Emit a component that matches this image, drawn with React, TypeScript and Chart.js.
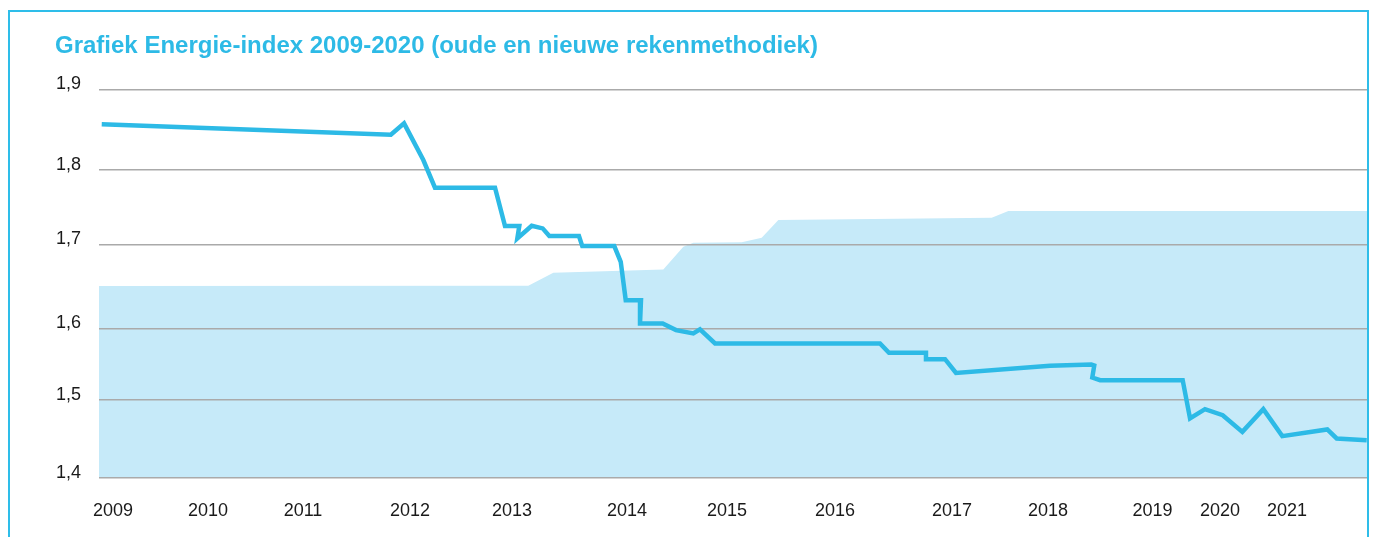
import React, { useEffect, useRef } from 'react';
import { Chart, registerables } from 'chart.js';

Chart.register(...registerables);

const chartTitle = 'Grafiek Energie-index 2009-2020 (oude en nieuwe rekenmethodiek)';

// Energie-index (line)
const lineX = [
  2008.885, 2011.84, 2011.975, 2012.172, 2012.291, 2012.905, 2013.007, 2013.153, 2013.133,
  2013.28, 2013.392, 2013.46, 2013.763, 2013.797, 2014.124, 2014.19, 2014.241, 2014.397,
  2014.387, 2014.619, 2014.755, 2014.932, 2015.0, 2015.154, 2016.84, 2016.932, 2017.31,
  2017.31, 2017.505, 2017.617, 2018.578, 2019.0, 2019.03, 2019.01, 2019.09, 2019.934,
  2020.009, 2020.162, 2020.343, 2020.544, 2020.758, 2020.952, 2021.412, 2021.508, 2021.815,
];
const lineY = [
  1.8552, 1.8418, 1.8564, 1.8091, 1.7735, 1.7735, 1.7241, 1.7241, 1.7082,
  1.7245, 1.7211, 1.7112, 1.7112, 1.6983, 1.6983, 1.6781, 1.6287, 1.6287,
  1.5987, 1.5987, 1.5901, 1.5858, 1.591, 1.5729, 1.5729, 1.5608, 1.5608,
  1.5527, 1.5527, 1.535, 1.5441, 1.5459, 1.5445, 1.529, 1.5256, 1.5256,
  1.4763, 1.4883, 1.4805, 1.459, 1.4883, 1.4535, 1.4621, 1.4505, 1.4483,
];

// Shaded band (area)
const areaX = [
  2008.857, 2013.245, 2013.501, 2014.625, 2014.83, 2014.932, 2015.427, 2015.631, 2015.801,
  2017.982, 2018.152, 2021.818,
];
const areaY = [
  1.647, 1.6472, 1.6639, 1.6683, 1.6974, 1.7026, 1.7031, 1.709, 1.7318,
  1.7348, 1.7434, 1.7434,
];

const xTickValues = [
  2009.0, 2009.971, 2010.942, 2012.036, 2013.079, 2014.254, 2015.276, 2016.38, 2017.576,
  2018.557, 2019.626, 2020.316, 2021.0,
];
const xTickLabels = [
  '2009', '2010', '2011', '2012', '2013', '2014', '2015', '2016', '2017', '2018', '2019', '2020', '2021',
];
const yTickValues = [1.4, 1.5003, 1.5923, 1.7005, 1.7963, 1.9];
const yTickLabels = ['1,4', '1,5', '1,6', '1,7', '1,8', '1,9'];

const CYAN = '#2dbae6';
const FRAME = '#2ebde9';
const FILL = '#c6eaf9';
const FONT = "'Liberation Sans', Arial, Helvetica, sans-serif";

export default function App() {
  const ref = useRef<HTMLCanvasElement | null>(null);

  useEffect(() => {
    if (!ref.current) return;
    const chart = new Chart(ref.current, {
      type: 'line',
      data: {
        datasets: [
          {
            label: 'Energie-index',
            data: lineX.map((x, i) => ({ x, y: lineY[i] })),
            borderColor: CYAN,
            borderWidth: 4.5,
            borderJoinStyle: 'miter',
            pointRadius: 0,
            tension: 0,
            fill: false,
          },
          {
            label: 'Band',
            data: areaX.map((x, i) => ({ x, y: areaY[i] })),
            borderColor: 'rgba(0,0,0,0)',
            borderWidth: 0,
            backgroundColor: FILL,
            pointRadius: 0,
            tension: 0,
            fill: 'start',
          },
        ],
      },
      options: {
        animation: false,
        responsive: false,
        devicePixelRatio: 1,
        layout: { padding: { left: 0, right: 8, top: 89.5, bottom: 4.3 } },
        plugins: {
          legend: { display: false },
          tooltip: { enabled: false },
          filler: { drawTime: 'beforeDraw' },
        },
        scales: {
          x: {
            type: 'linear',
            min: 2008.857,
            max: 2021.818,
            grid: { display: false },
            border: { display: false },
            afterBuildTicks: (s: any) => {
              s.ticks = xTickValues.map((v) => ({ value: v }));
            },
            afterFit: (s: any) => {
              s.height = 55;
            },
            ticks: {
              autoSkip: false,
              maxRotation: 0,
              padding: 14.5,
              color: '#1a1a1a',
              font: { family: FONT, size: 18 },
              callback: (_v: any, i: number) => xTickLabels[i],
            },
          },
          y: {
            type: 'linear',
            min: 1.4,
            max: 1.9,
            grid: { color: '#aaaaaa', lineWidth: 1.5, drawTicks: false },
            border: { display: false },
            afterBuildTicks: (s: any) => {
              s.ticks = yTickValues.map((v) => ({ value: v }));
            },
            afterFit: (s: any) => {
              s.width = 99;
            },
            ticks: {
              autoSkip: false,
              padding: 18,
              labelOffset: -5,
              color: '#1a1a1a',
              font: { family: FONT, size: 18 },
              callback: (_v: any, i: number) => yTickLabels[i],
            },
          },
        },
      },
    });
    return () => chart.destroy();
  }, []);

  return (
    <div style={{ position: 'absolute', left: 0, top: 0, width: 1375, height: 537, overflow: 'hidden', background: '#fff' }}>
      <canvas ref={ref} width={1375} height={537} style={{ position: 'absolute', left: 0, top: 0, display: 'block' }} />
      <div
        style={{
          position: 'absolute',
          left: 8,
          top: 10,
          width: 1361,
          height: 600,
          border: `2px solid ${FRAME}`,
          boxSizing: 'border-box',
          pointerEvents: 'none',
        }}
      />
      <div
        style={{
          position: 'absolute',
          left: 55,
          top: 33,
          fontFamily: FONT,
          fontWeight: 'bold',
          fontSize: 24,
          lineHeight: '24px',
          color: CYAN,
          whiteSpace: 'nowrap',
        }}
      >
        {chartTitle}
      </div>
    </div>
  );
}
